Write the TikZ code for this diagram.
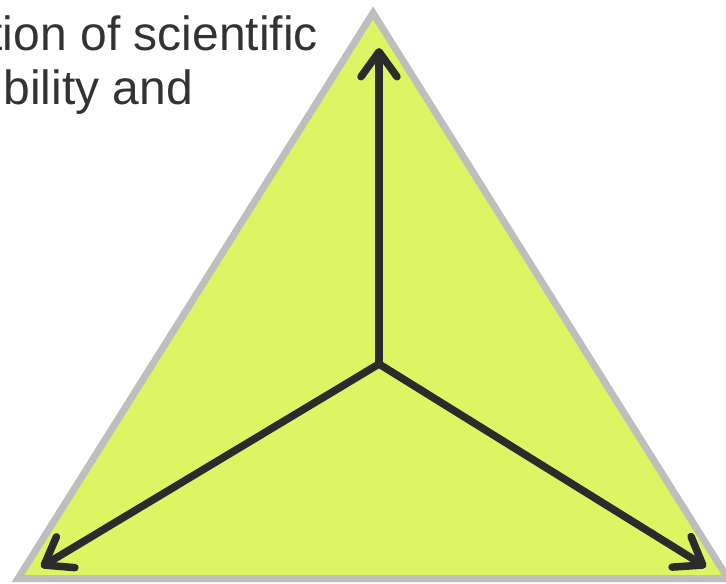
\documentclass[tikz,border=0pt]{standalone}
\usepackage{fontspec}
\setmainfont{Liberation Sans}
\usepackage{xcolor}
\usetikzlibrary{arrows.meta}
\definecolor{trifill}{HTML}{DDF562}
\definecolor{triedge}{HTML}{BEBEBE}
\definecolor{arrowdark}{HTML}{2B2B2B}
\definecolor{textdark}{HTML}{333333}

\begin{document}
\begin{tikzpicture}[x=1pt, y=-1pt,
    >={Straight Barb[round, length=25pt, width=36pt]}]
  \useasboundingbox (0,0) rectangle (726,584);
  \clip (0,0) rectangle (726,584);

  % Dreieck
  \coordinate (apex) at (373,13);
  \coordinate (left) at (18,578.5);
  \coordinate (right) at (728,578.5);
  \filldraw[fill=trifill, draw=triedge, line width=7pt] (apex) -- (left) -- (right) -- cycle;

  % Pfeile vom Mittelpunkt
  \coordinate (hub) at (379,364);
  \coordinate (tiptop) at (379,48);
  \coordinate (tipleft) at (41,567);
  \coordinate (tipright) at (706,567);
  \draw[->, arrowdark, line width=7.5pt] (hub) -- (tiptop);
  \draw[->, arrowdark, line width=7.5pt] (hub) -- (tipleft);
  \draw[->, arrowdark, line width=7.5pt] (hub) -- (tipright);

  % Text (abgeschnitten)
  \node[anchor=base east, inner sep=0pt, textdark, font=\fontsize{48}{57}\selectfont] (captionA) at (318,50) {tion of scientific};
  \node[anchor=base east, inner sep=0pt, textdark, font=\fontsize{48}{57}\selectfont] (captionB) at (193,104) {bility and};
\end{tikzpicture}
\end{document}
